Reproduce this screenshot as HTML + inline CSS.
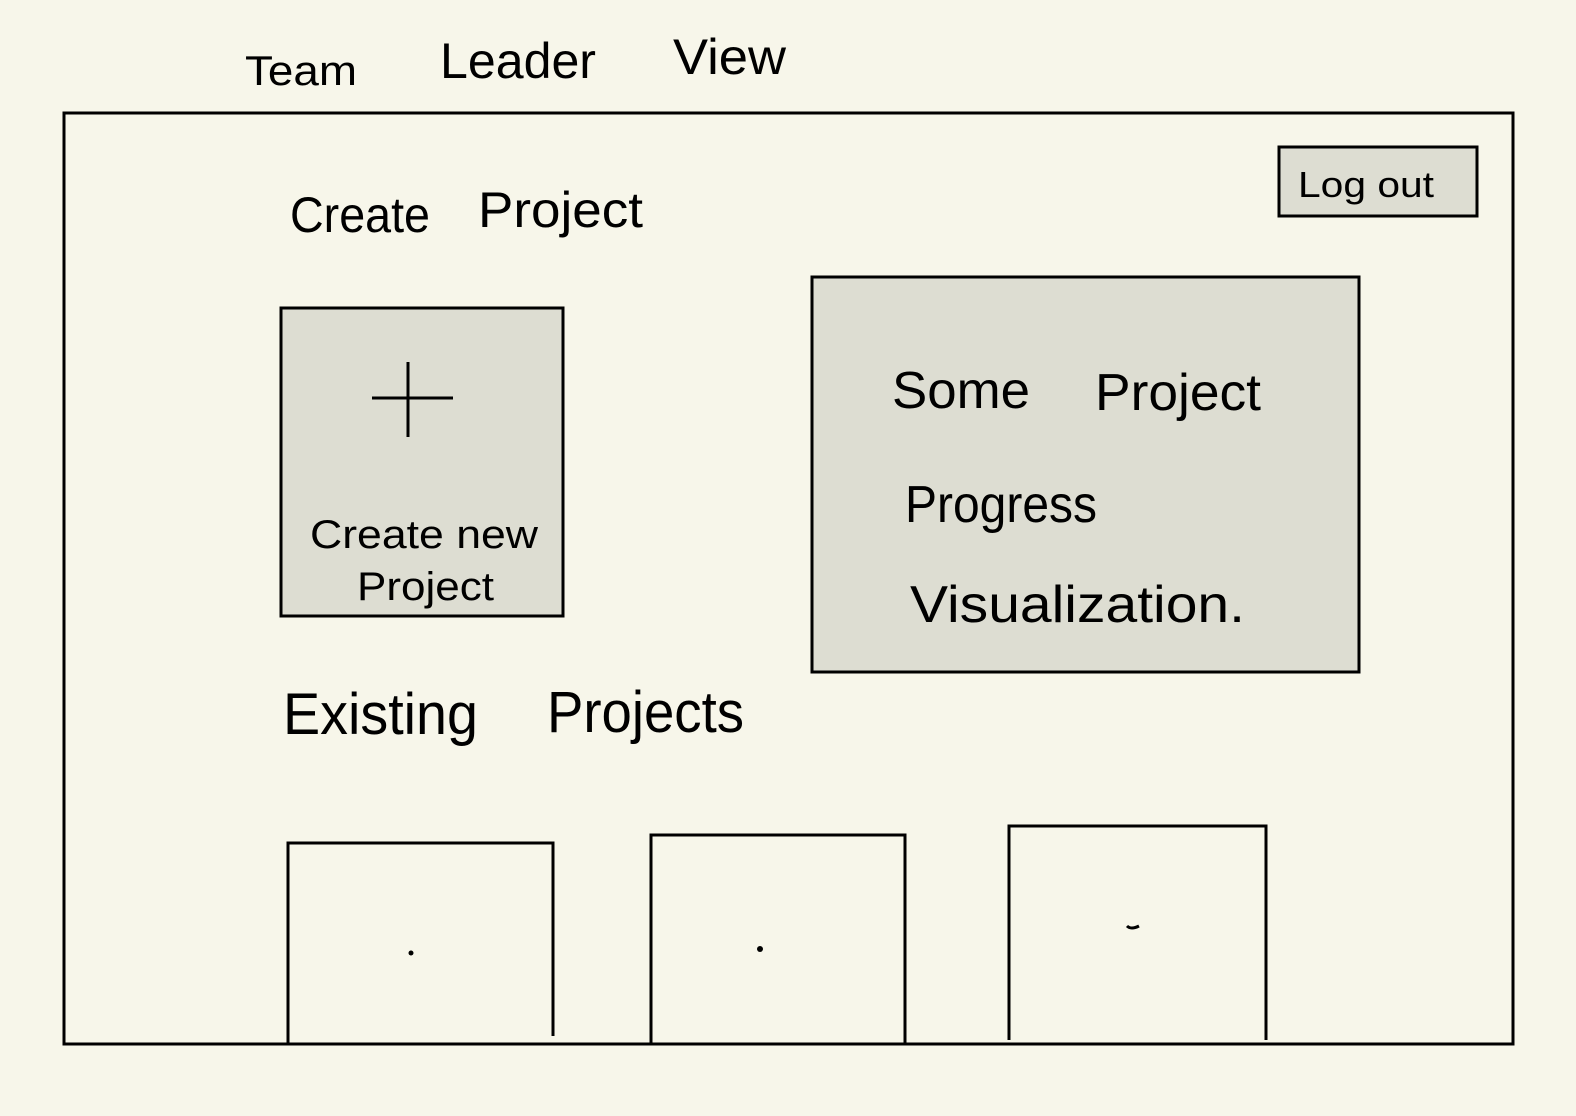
<!DOCTYPE html>
<html><head><meta charset="utf-8"><style>
html,body{margin:0;padding:0;background:#f7f6ea;}
svg{display:block}
text{font-family:"Liberation Sans",sans-serif;fill:#000}
</style></head><body>
<svg width="1576" height="1116" viewBox="0 0 1576 1116" xmlns="http://www.w3.org/2000/svg">
<rect width="1576" height="1116" fill="#f7f6ea"/>
<g fill="none" stroke="#000" stroke-width="3">
<rect x="64" y="113" width="1449" height="931"/>
<rect x="1279" y="147" width="198" height="69" fill="#ddddd2"/>
<rect x="281" y="308" width="282" height="308" fill="#ddddd2"/>
<rect x="812" y="277" width="547" height="395" fill="#ddddd2"/>
<path d="M288 1044 V843 H553 V1036"/>
<path d="M651 1044 V835 H905 V1044"/>
<path d="M1009 1040 V826 H1266 V1040"/>
<path d="M372 398 H453 M408 362 V437"/>
</g>
<text x="245" y="85" font-size="42" textLength="112" lengthAdjust="spacingAndGlyphs">Team</text>
<text x="440" y="78" font-size="50" textLength="156" lengthAdjust="spacingAndGlyphs">Leader</text>
<text x="673" y="74" font-size="50" textLength="113" lengthAdjust="spacingAndGlyphs">View</text>
<text x="290" y="232" font-size="50" textLength="140" lengthAdjust="spacingAndGlyphs">Create</text>
<text x="478" y="227" font-size="50" textLength="165" lengthAdjust="spacingAndGlyphs">Project</text>
<text x="1298" y="197" font-size="36" textLength="136" lengthAdjust="spacingAndGlyphs">Log out</text>
<text x="310" y="548" font-size="40" textLength="228" lengthAdjust="spacingAndGlyphs">Create new</text>
<text x="357" y="600" font-size="40" textLength="137" lengthAdjust="spacingAndGlyphs">Project</text>
<text x="892" y="408" font-size="52" textLength="138" lengthAdjust="spacingAndGlyphs">Some</text>
<text x="1095" y="410" font-size="52" textLength="166" lengthAdjust="spacingAndGlyphs">Project</text>
<text x="905" y="522" font-size="52" textLength="192" lengthAdjust="spacingAndGlyphs">Progress</text>
<text x="910" y="622" font-size="52" textLength="335" lengthAdjust="spacingAndGlyphs">Visualization.</text>
<text x="283" y="734" font-size="58" textLength="195" lengthAdjust="spacingAndGlyphs">Existing</text>
<text x="547" y="732" font-size="58" textLength="197" lengthAdjust="spacingAndGlyphs">Projects</text>
<circle cx="411" cy="953" r="2.5"/>
<circle cx="760" cy="949" r="3"/>
<path d="M1127 926 q4 4 12 0" stroke="#000" stroke-width="3" fill="none"/>
</svg>
</body></html>
